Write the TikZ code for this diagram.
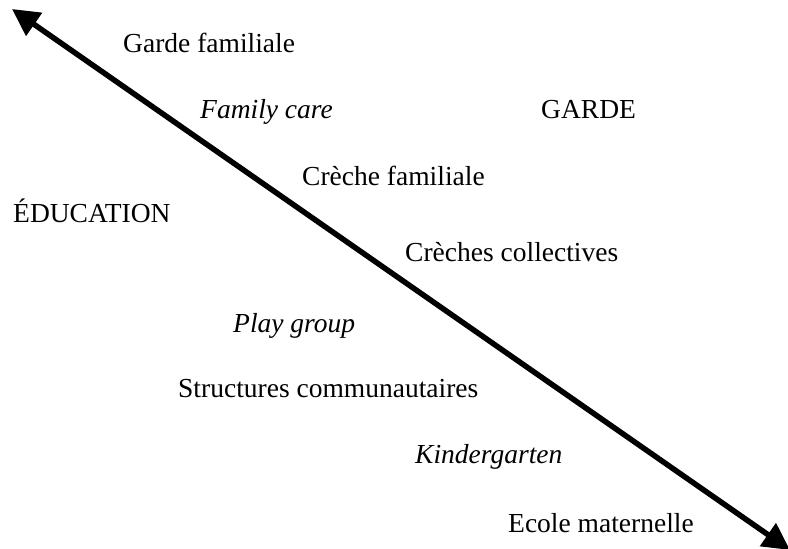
\documentclass[tikz,border=0pt]{standalone}
\usepackage{fontspec}
\setmainfont{Liberation Serif}
\usetikzlibrary{arrows.meta}
\begin{document}
\begin{tikzpicture}[x=1pt,y=-1pt,
  lbl/.style={anchor=base west,inner sep=0pt,font=\fontsize{27.5}{30}\selectfont},
  ital/.style={lbl,font=\fontsize{27.5}{30}\selectfont\itshape},
  axis/.style={line width=5.5pt,{Triangle[length=27pt,width=27pt]}-{Triangle[length=27pt,width=27pt]}}]
\useasboundingbox (0,0) rectangle (788,549);
\coordinate (a) at (12,9);
\coordinate (b) at (790,550);
\draw[axis] (a) -- (b);
\node[lbl] (gf) at (123,52) {Garde familiale};
\node[ital] (fc) at (200,118) {Family care};
\node[lbl] (garde) at (541,118) {GARDE};
\node[lbl] (cf) at (302,185) {Crèche familiale};
\node[lbl] (edu) at (13,222) {ÉDUCATION};
\node[lbl] (cc) at (405,261) {Crèches collectives};
\node[ital] (pg) at (233,332) {Play group};
\node[lbl] (sc) at (178,397) {Structures communautaires};
\node[ital] (kg) at (415,463) {Kindergarten};
\node[lbl] (em) at (508,532) {Ecole maternelle};
\end{tikzpicture}
\end{document}
